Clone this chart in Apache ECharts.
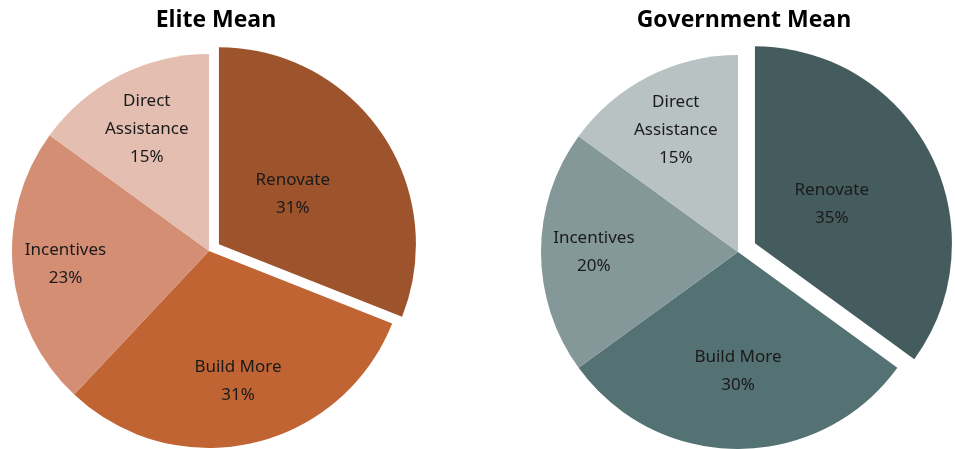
<!DOCTYPE html>
<html>
<head>
<meta charset="utf-8">
<script src="https://cdn.jsdelivr.net/npm/echarts@6/dist/echarts.min.js"></script>
<style>
  html, body { margin: 0; padding: 0; background: #fff; }
  #main { width: 955px; height: 449px; }
</style>
</head>
<body>
<div id="main"></div>
<script>
    var categories = ['Renovate', 'Build More', 'Incentives', 'Direct\nAssistance'];
    var eliteValues = [31, 31, 23, 15];
    var govValues = [35, 30, 20, 15];
    var titles = ['Elite Mean', 'Government Mean'];

    var eliteColors = ['#9d532b', '#c06434', '#d48e74', '#e4beb0'];
    var govColors = ['#455c5f', '#547173', '#84989a', '#b8c2c3'];

    var myChart = echarts.init(document.getElementById('main'));
    var centers = [[209, 251], [738, 252]];
    var radius = 197;

    // label distance from the centre, relative to the default inside spot
    var eliteLabelScale = [0.88, 1.31, 1.42, 1.35];
    var govLabelScale = [0.85, 1.17, 1.42, 1.35];

    function makeLayout(center, scale) {
        return function (p) {
            var r = p.labelRect;
            var lx = r.x + r.width / 2, ly = r.y + r.height / 2;
            var k = scale[p.dataIndex];
            return {
                dx: (k - 1) * (lx - center[0]),
                dy: (k - 1) * (ly - center[1])
            };
        };
    }

    function buildData(values, colors) {
        return values.map(function (v, i) {
            return {
                value: v,
                name: categories[i],
                selected: i === 0,
                itemStyle: {color: colors[i]}
            };
        });
    }

    function pieSeries(values, colors, center, offset, scale) {
        return {
            type: 'pie',
            center: center,
            radius: radius,
            startAngle: 90,
            clockwise: true,
            selectedMode: 'single',
            selectedOffset: offset,
            animation: false,
            silent: true,
            itemStyle: {borderWidth: 0},
            label: {
                show: true,
                position: 'inside',
                formatter: '{b}\n{c}%',
                color: '#1a1a1a',
                fontFamily: 'Noto Sans',
                fontSize: 17,
                lineHeight: 28
            },
            labelLine: {show: false},
            labelLayout: makeLayout(center, scale),
            data: buildData(values, colors)
        };
    }

    var titleStyle = {fontFamily: 'Open Sans', fontWeight: 'bold', fontSize: 23, color: '#000'};

    var option = {
        backgroundColor: '#fff',
        title: [
            {text: titles[0], left: 211, top: 4, textAlign: 'center', textStyle: titleStyle},
            {text: titles[1], left: 739, top: 4, textAlign: 'center', textStyle: titleStyle}
        ],
        series: [
            pieSeries(eliteValues, eliteColors, centers[0], 12, eliteLabelScale),
            pieSeries(govValues, govColors, centers[1], 19, govLabelScale)
        ]
    };
    myChart.setOption(option);
</script>
</body>
</html>
